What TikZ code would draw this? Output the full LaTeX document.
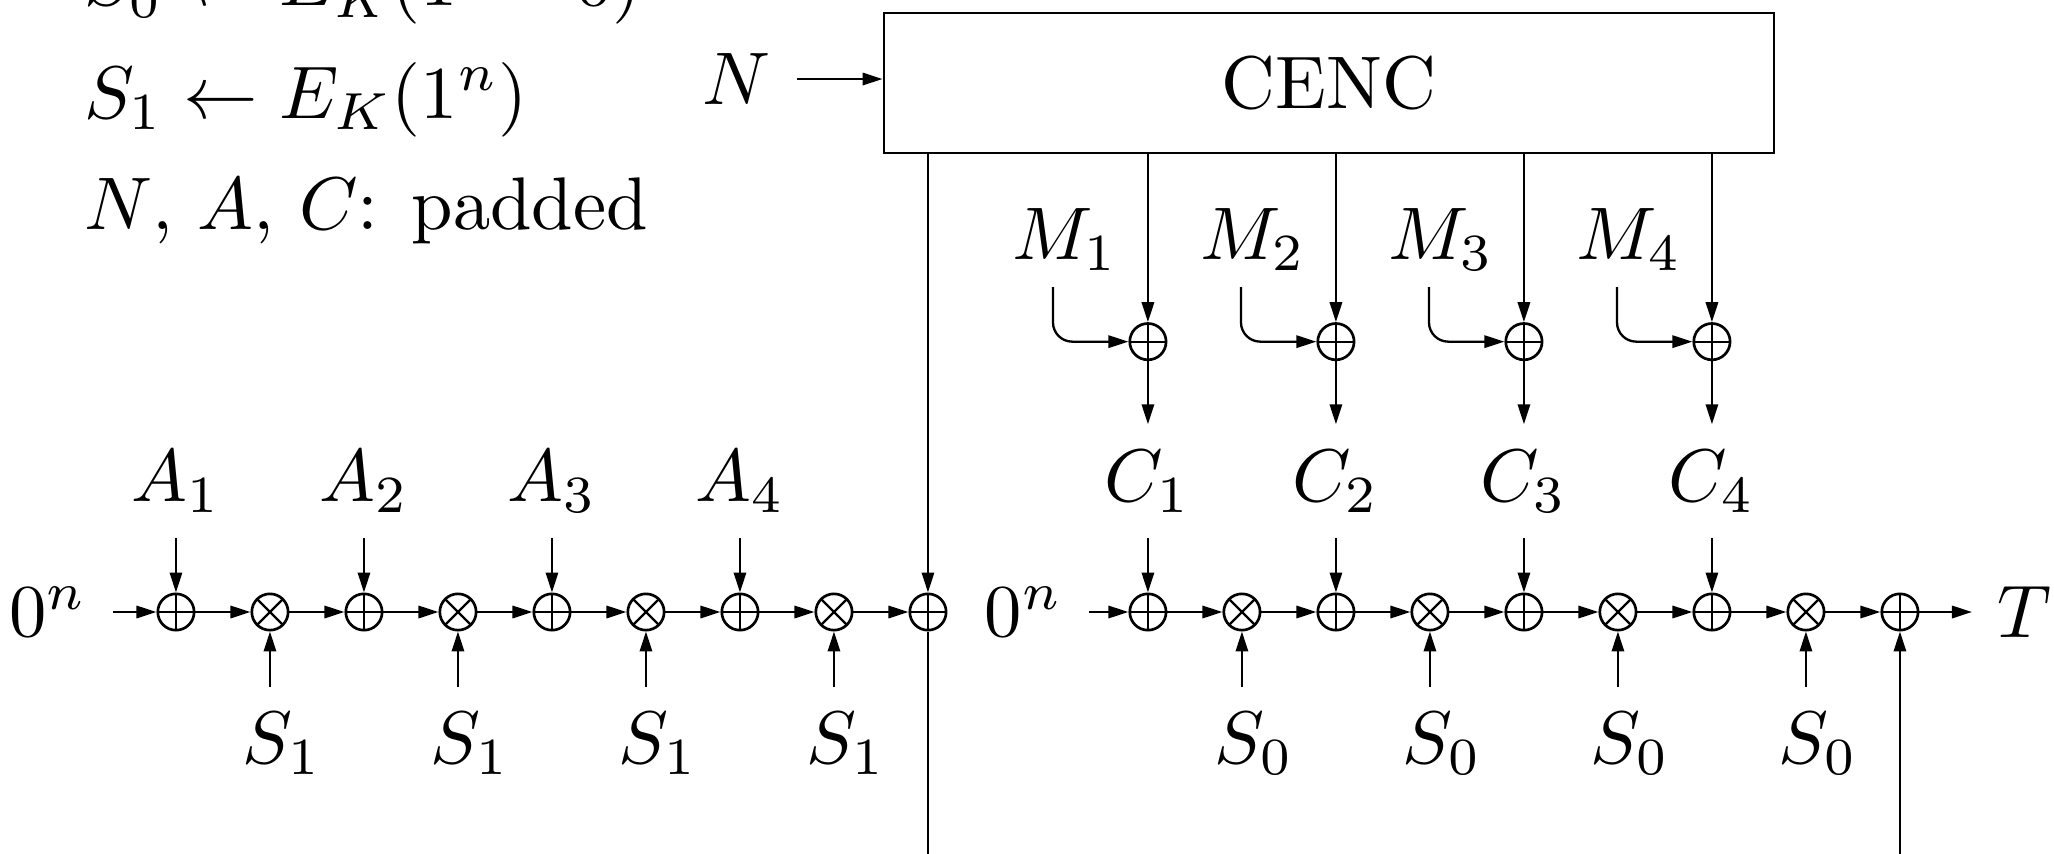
\documentclass[tikz,border=0pt]{standalone}
\usepackage{tikz}
\usetikzlibrary{arrows.meta}

\begin{document}
\begin{tikzpicture}[x=0.443cm,y=0.443cm,
  xorop/.style={circle,draw,line width=0.36pt,minimum size=4.87pt,inner sep=0pt,
    path picture={\draw[line width=0.31pt]
      (path picture bounding box.north) -- (path picture bounding box.south)
      (path picture bounding box.west) -- (path picture bounding box.east);}},
  mulop/.style={circle,draw,line width=0.36pt,minimum size=4.87pt,inner sep=0pt,
    path picture={\draw[line width=0.31pt]
      (path picture bounding box.north west) -- (path picture bounding box.south east)
      (path picture bounding box.south west) -- (path picture bounding box.north east);}}]
\useasboundingbox (-1.872,-2.574) rectangle (19.979,6.511);
\begin{scope}[>={Triangle[length=2.68pt,width=1.65pt]},line width=0.31pt]

    \node[anchor=base west,inner sep=0pt] (key0) at (-0.99,6.447) {$S_0 \leftarrow E_K(1^{n-1}0)$};
    \node[anchor=base west,inner sep=0pt] (key1) at (-0.99,5.255) {$S_1 \leftarrow E_K(1^n)$};
    \node[anchor=base west,inner sep=0pt] (pad) at (-0.99,4.064) {$N$, $A$, $C$: padded};

    \node[draw,line width=0.36pt,minimum width=4.195cm,minimum height=0.66cm,inner sep=0pt] (cenc) at (12.266,5.628) {CENC};
    \node (nin) at (5.968,5.67) {$N$};
    \draw[->] (nin) -- (nin -| cenc.west);

    \node[xorop] (la1) at (0,0) {};
    \node[mulop] (lm1) at (1,0) {};
    \node[xorop] (la2) at (2,0) {};
    \node[mulop] (lm2) at (3,0) {};
    \node[xorop] (la3) at (4,0) {};
    \node[mulop] (lm3) at (5,0) {};
    \node[xorop] (la4) at (6,0) {};
    \node[mulop] (lm4) at (7,0) {};
    \node[xorop] (la5) at (8,0) {};

    \node[xorop] (ra1) at (10.34,0) {};
    \node[mulop] (rm1) at (11.34,0) {};
    \node[xorop] (ra2) at (12.34,0) {};
    \node[mulop] (rm2) at (13.34,0) {};
    \node[xorop] (ra3) at (14.34,0) {};
    \node[mulop] (rm3) at (15.34,0) {};
    \node[xorop] (ra4) at (16.34,0) {};
    \node[mulop] (rm4) at (17.34,0) {};
    \node[xorop] (ra5) at (18.34,0) {};

    \node (zl) at (-1.36,0) {$0^n$};
    \node (zr) at (9.02,0) {$0^n$};
    \node (tag) at (19.67,0) {$T$};

    \node (a1) at (0,1.39) {$A_1$};
    \node (a2) at (2,1.39) {$A_2$};
    \node (a3) at (4,1.39) {$A_3$};
    \node (a4) at (6,1.39) {$A_4$};
    \node (s1) at (1.13,-1.40) {$S_1$};
    \node (s2) at (3.13,-1.40) {$S_1$};
    \node (s3) at (5.13,-1.40) {$S_1$};
    \node (s4) at (7.13,-1.40) {$S_1$};

    \node (c1) at (10.34,1.39) {$C_1$};
    \node (c2) at (12.34,1.39) {$C_2$};
    \node (c3) at (14.34,1.39) {$C_3$};
    \node (c4) at (16.34,1.39) {$C_4$};
    \node (t1) at (11.47,-1.40) {$S_0$};
    \node (t2) at (13.47,-1.40) {$S_0$};
    \node (t3) at (15.47,-1.40) {$S_0$};
    \node (t4) at (17.47,-1.40) {$S_0$};

    \node[xorop] (x1) at (10.34,2.876) {};
    \node[xorop] (x2) at (12.34,2.876) {};
    \node[xorop] (x3) at (14.34,2.876) {};
    \node[xorop] (x4) at (16.34,2.876) {};
    \node (m1) at (9.46,3.96) {$M_1$};
    \node (m2) at (11.46,3.96) {$M_2$};
    \node (m3) at (13.46,3.96) {$M_3$};
    \node (m4) at (15.46,3.96) {$M_4$};
    \coordinate (h1) at (9.33,3.457);
    \coordinate (h2) at (11.33,3.457);
    \coordinate (h3) at (13.33,3.457);
    \coordinate (h4) at (15.33,3.457);

    \coordinate (bot) at (0,-2.7);

    \draw[->] (zl) -- (la1);
    \draw[->] (la1) -- (lm1);
    \draw[->] (lm1) -- (la2);
    \draw[->] (la2) -- (lm2);
    \draw[->] (lm2) -- (la3);
    \draw[->] (la3) -- (lm3);
    \draw[->] (lm3) -- (la4);
    \draw[->] (la4) -- (lm4);
    \draw[->] (lm4) -- (la5);

    \draw[->] (a1) -- (la1);
    \draw[->] (a2) -- (la2);
    \draw[->] (a3) -- (la3);
    \draw[->] (a4) -- (la4);
    \draw[->] (lm1 |- s1.north) -- (lm1);
    \draw[->] (lm2 |- s2.north) -- (lm2);
    \draw[->] (lm3 |- s3.north) -- (lm3);
    \draw[->] (lm4 |- s4.north) -- (lm4);

    \draw[->] (la5 |- cenc.south) -- (la5);
    \draw (la5) -- (la5 |- bot);

    \draw[->] (zr) -- (ra1);
    \draw[->] (ra1) -- (rm1);
    \draw[->] (rm1) -- (ra2);
    \draw[->] (ra2) -- (rm2);
    \draw[->] (rm2) -- (ra3);
    \draw[->] (ra3) -- (rm3);
    \draw[->] (rm3) -- (ra4);
    \draw[->] (ra4) -- (rm4);
    \draw[->] (rm4) -- (ra5);
    \draw[->] (ra5) -- (tag);
    \draw[->] (ra5 |- bot) -- (ra5);

    \draw[->] (c1) -- (ra1);
    \draw[->] (c2) -- (ra2);
    \draw[->] (c3) -- (ra3);
    \draw[->] (c4) -- (ra4);
    \draw[->] (rm1 |- t1.north) -- (rm1);
    \draw[->] (rm2 |- t2.north) -- (rm2);
    \draw[->] (rm3 |- t3.north) -- (rm3);
    \draw[->] (rm4 |- t4.north) -- (rm4);

    \draw[->] (x1 |- cenc.south) -- (x1);
    \draw[->] (x2 |- cenc.south) -- (x2);
    \draw[->] (x3 |- cenc.south) -- (x3);
    \draw[->] (x4 |- cenc.south) -- (x4);
    \draw[->,rounded corners=2.58pt] (h1) |- (x1);
    \draw[->,rounded corners=2.58pt] (h2) |- (x2);
    \draw[->,rounded corners=2.58pt] (h3) |- (x3);
    \draw[->,rounded corners=2.58pt] (h4) |- (x4);
    \draw[->] (x1) -- (c1);
    \draw[->] (x2) -- (c2);
    \draw[->] (x3) -- (c3);
    \draw[->] (x4) -- (c4);

\end{scope}
\end{tikzpicture}
\end{document}
